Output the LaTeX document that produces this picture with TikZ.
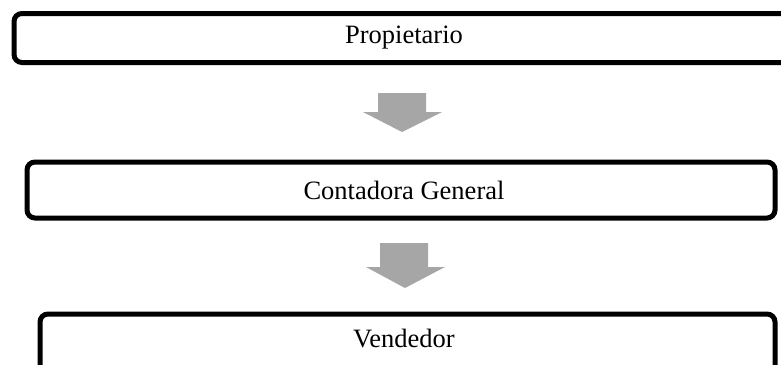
\documentclass[tikz,border=0pt]{standalone}
\usepackage{fontspec}
\setmainfont{Liberation Serif}
\begin{document}
\begin{tikzpicture}[x=1pt,y=-1pt,
  boxstyle/.style={draw=black, line width=5pt, rounded corners=8pt, fill=white, inner sep=0pt},
  labelstyle/.style={font=\fontsize{26.5}{30}\selectfont},
  blockarrow/.style={fill=arrowgray, draw=none}]
\definecolor{arrowgray}{HTML}{A6A6A6}
\useasboundingbox (0,0) rectangle (781,364);
\clip (0,0) rectangle (781,364);
\node[boxstyle, minimum width=786pt, minimum height=49pt] (prop) at (407,38) {};
\node[labelstyle] (tprop) at (404,38) {Propietario};
\node[boxstyle, minimum width=748pt, minimum height=56pt] (cont) at (401,190) {};
\node[labelstyle] (tcont) at (404,190) {Contadora General};
\node[boxstyle, minimum width=735pt, minimum height=60pt] (vend) at (407.5,344) {};
\node[labelstyle] (tvend) at (404,339) {Vendedor};
\fill[blockarrow] (378,93) -- (426,93) -- (426,112) -- (442,112) -- (402,132) -- (363,112) -- (378,112) -- cycle;
\fill[blockarrow] (380,243) -- (428,243) -- (428,267) -- (445,267) -- (405,288) -- (366,267) -- (380,267) -- cycle;
\end{tikzpicture}
\end{document}
